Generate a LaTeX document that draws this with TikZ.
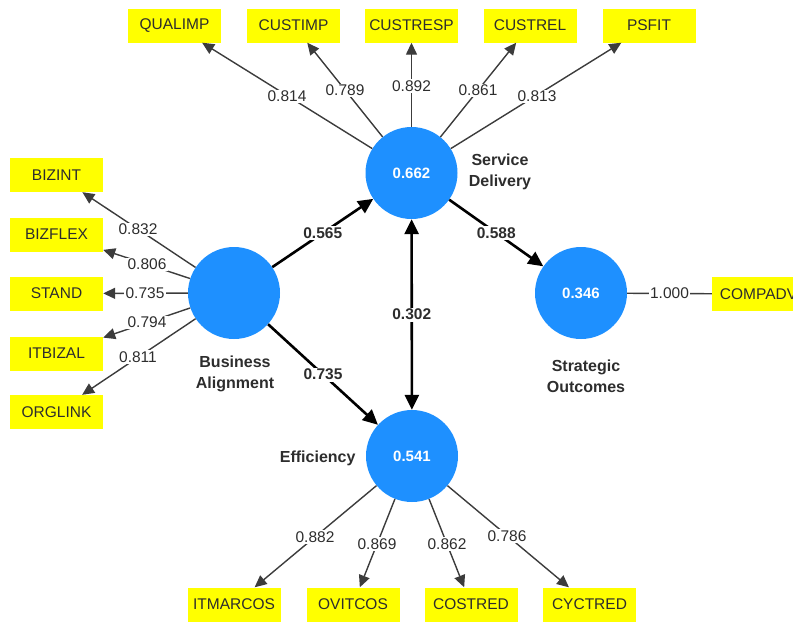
\documentclass[tikz,border=0pt]{standalone}
\usepackage{fontspec}
\setmainfont{Liberation Sans}
\usetikzlibrary{arrows.meta}
\definecolor{lvblue}{RGB}{30,144,255}
\definecolor{mvyellow}{RGB}{255,255,0}
\definecolor{loadgray}{RGB}{60,60,60}
\definecolor{txtgray}{RGB}{45,45,45}
\begin{document}
\begin{tikzpicture}[x=1pt,y=-1pt,
  mv/.style={fill=mvyellow, minimum width=93pt, minimum height=34pt, inner sep=0pt, text=txtgray, font=\fontsize{15.5}{18}\selectfont},
  lv/.style={circle, fill=lvblue, minimum size=92pt, inner sep=0pt, text=white, font=\fontsize{15}{18}\selectfont\bfseries},
  lvname/.style={font=\fontsize{16}{21}\selectfont\bfseries, align=center, text=txtgray},
  load/.style={draw=loadgray, line width=1.4pt, -{Triangle[length=12pt,width=11pt]}},
  plain/.style={draw=loadgray, line width=1.4pt},
  pathar/.style={draw=black, line width=2.6pt, -{Triangle[length=15pt,width=14pt]}},
  pathboth/.style={draw=black, line width=2.6pt, {Triangle[length=15pt,width=14pt]}-{Triangle[length=15pt,width=14pt]}},
  lbl/.style={fill=white, inner sep=1.5pt, text=txtgray, font=\fontsize{15.5}{18}\selectfont},
  plbl/.style={fill=white, inner sep=1.5pt, text=txtgray, font=\fontsize{15.5}{18}\selectfont\bfseries},
]
\useasboundingbox (0,0) rectangle (793,622);
\clip (0,0) rectangle (793,622);

% latent variables
\node[lv] (sd) at (411.5,173) {0.662};
\node[lv] (ba) at (234,293) {};
\node[lv] (so) at (581,293) {0.346};
\node[lv] (eff) at (412,456) {0.541};

\node[lvname] (sdname) at (500,172) {Service\\Delivery};
\node[lvname] (baname) at (235,374) {Business\\Alignment};
\node[lvname] (soname) at (586,376) {Strategic\\Outcomes};
\node[lvname, anchor=east] (effname) at (359,458) {Efficiency};

% indicators
\node[mv] (qualimp) at (174.5,25.5) {QUALIMP};
\node[mv] (custimp) at (293.5,25.5) {CUSTIMP};
\node[mv] (custresp) at (411.5,25.5) {CUSTRESP};
\node[mv] (custrel) at (530,25.5) {CUSTREL};
\node[mv] (psfit) at (649,25.5) {PSFIT};

\node[mv] (bizint) at (56.5,175) {BIZINT};
\node[mv] (bizflex) at (56.5,234.5) {BIZFLEX};
\node[mv] (stand) at (56.5,293.5) {STAND};
\node[mv] (itbizal) at (56.5,353.5) {ITBIZAL};
\node[mv] (orglink) at (56.5,412) {ORGLINK};

\node[mv] (itmarcos) at (234,604.5) {ITMARCOS};
\node[mv] (ovitcos) at (353,604.5) {OVITCOS};
\node[mv] (costred) at (471,604.5) {COSTRED};
\node[mv] (cyctred) at (589.5,604.5) {CYCTRED};

\node[mv] (compadv) at (758.5,294) {COMPADV};

% outer loadings
\draw[load] (sd) -- (qualimp);
\draw[load] (sd) -- (custimp);
\draw[load] (sd) -- (custresp);
\draw[load] (sd) -- (custrel);
\draw[load] (sd) -- (psfit);
\draw[load] (ba) -- (bizint);
\draw[load] (ba) -- (bizflex);
\draw[load] (ba) -- (stand);
\draw[load] (ba) -- (itbizal);
\draw[load] (ba) -- (orglink);
\draw[load] (eff) -- (itmarcos);
\draw[load] (eff) -- (ovitcos);
\draw[load] (eff) -- (costred);
\draw[load] (eff) -- (cyctred);
\draw[plain] (so) -- node[lbl] (l1000) {1.000} (compadv);

\node[lbl] (l814) at (287,96.5) {0.814};
\node[lbl] (l789) at (345,90.5) {0.789};
\node[lbl] (l892) at (411.5,86) {0.892};
\node[lbl] (l861) at (478,90.5) {0.861};
\node[lbl] (l813) at (537,96.5) {0.813};

\node[lbl] (l832) at (138,229.5) {0.832};
\node[lbl] (l806) at (147,264.5) {0.806};
\node[lbl] (l735a) at (145,293.5) {0.735};
\node[lbl] (l794) at (147,322.5) {0.794};
\node[lbl] (l811) at (138,357) {0.811};

\node[lbl] (l882) at (315,537) {0.882};
\node[lbl] (l869) at (377,544) {0.869};
\node[lbl] (l862) at (447,544) {0.862};
\node[lbl] (l786) at (507,536) {0.786};

% structural paths
\draw[pathar] (ba) -- node[plbl] (p565) {0.565} (sd);
\draw[pathar] (sd) -- node[plbl] (p588) {0.588} (so);
\draw[pathar] (ba) -- node[plbl] (p735) {0.735} (eff);
\draw[pathboth] (sd) -- node[plbl] (p302) {0.302} (eff);
\end{tikzpicture}
\end{document}
